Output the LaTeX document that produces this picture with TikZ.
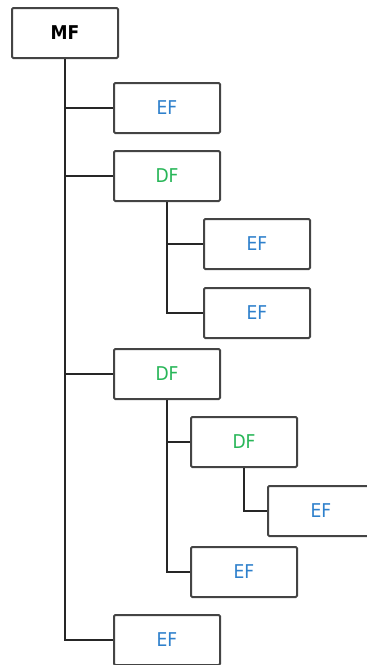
\documentclass[tikz,border=0pt]{standalone}
\usepackage{fontspec}
\setmainfont{DejaVu Sans Condensed}
\definecolor{FrameColor}{RGB}{68,68,68}
\definecolor{EFColor}{RGB}{46,128,204}
\definecolor{DFColor}{RGB}{40,182,88}
\begin{document}
\begin{tikzpicture}[
		x=1pt, y=-1pt,
		file/.style={draw=FrameColor, line width=2pt, rounded corners=1.2pt, minimum width=106pt, minimum height=50pt, inner sep=0pt, fill=white, font=\fontsize{19}{22}\selectfont},
		master/.style={file, font=\fontsize{19}{22}\selectfont\bfseries},
		elem/.style={file, text=EFColor},
		dedic/.style={file, text=DFColor},
		branch/.style={draw=black!85, line width=2pt}
	]
	\useasboundingbox (0, 0) rectangle (367, 665);

	% Files
	\node[master] (mf) at (65, 33) {MF};
	\node[elem] (ef1) at (167, 108) {EF};
	\node[dedic] (df1) at (167, 176) {DF};
	\node[elem] (ef2) at (257, 244) {EF};
	\node[elem] (ef3) at (257, 313) {EF};
	\node[dedic] (df2) at (167, 374) {DF};
	\node[dedic] (df3) at (244, 442) {DF};
	\node[elem] (ef4) at (321, 511) {EF};
	\node[elem] (ef5) at (244, 572) {EF};
	\node[elem] (ef6) at (167, 640) {EF};

	% Tree lines
	\draw[branch] (mf.south) |- (ef6.west);
	\draw[branch] (mf.south |- ef1.west) -- (ef1.west);
	\draw[branch] (mf.south |- df1.west) -- (df1.west);
	\draw[branch] (mf.south |- df2.west) -- (df2.west);
	\draw[branch] (df1.south) |- (ef3.west);
	\draw[branch] (df1.south |- ef2.west) -- (ef2.west);
	\draw[branch] (df2.south) |- (ef5.west);
	\draw[branch] (df2.south |- df3.west) -- (df3.west);
	\draw[branch] (df3.south) |- (ef4.west);

\end{tikzpicture}
\end{document}
